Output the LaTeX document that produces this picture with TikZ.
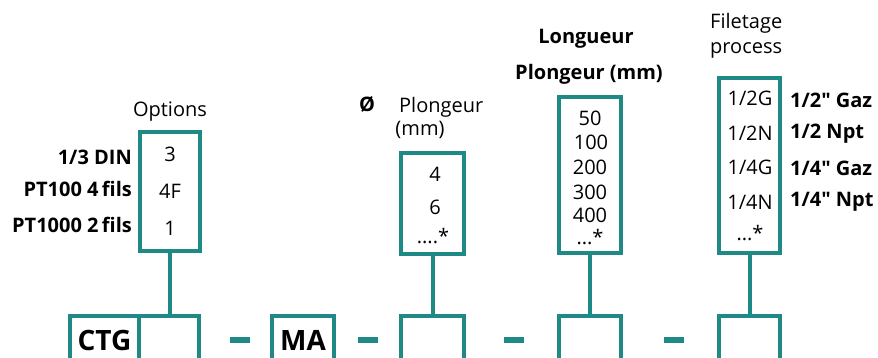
\documentclass[tikz,border=0pt]{standalone}
\usepackage{fontspec}
\setmainfont{Open Sans}[Ligatures=TeXOff]
\usetikzlibrary{positioning}
\definecolor{sonde}{RGB}{30,137,133}
\tikzset{x=1pt, y=-1pt, % one unit is one pixel, y runs down
every node/.style={ % Text size of the whole picture
font=\fontsize{20}{24}\selectfont,
inner sep=0pt},
box/.style={ % Boxes holding the choices
draw=sonde, line width=4pt, outer sep=0pt,
anchor=north west},
cell/.style={ % Cells of the order code
box, minimum height=48pt},
stem/.style={draw=sonde, line width=4pt},
lbl/.style={font=\fontsize{20}{24}\selectfont\bfseries}}

\begin{document}
\begin{tikzpicture}
    \useasboundingbox (0,0) rectangle (878,358);

    % option boxes
    \node[box, minimum width=60pt, minimum height=119pt] (opt) at (140,132) {};
    \node[box, minimum width=63pt, minimum height=101pt] (dia) at (401,153) {};
    \node[box, minimum width=62pt, minimum height=156pt] (lng) at (559,97) {};
    \node[box, minimum width=61pt, minimum height=175pt] (fil) at (719,78) {};

    % order code cells
    \node[cell, minimum width=69pt, font=\fontsize{28}{32}\selectfont\bfseries] (ctg) at (70,316) {CTG};
    \node[cell, minimum width=60pt] (ctgb) at (139,316) {};
    \node[cell, minimum width=62pt, font=\fontsize{28}{32}\selectfont\bfseries] (ma) at (272,316) {MA};
    \node[cell, minimum width=63pt] (diab) at (401,316) {};
    \node[cell, minimum width=62pt] (lngb) at (559,316) {};
    \node[cell, minimum width=61pt] (filb) at (719,316) {};

    \draw[stem] (opt.south) -- (opt.south |- ctgb.north);
    \draw[stem] (dia.south) -- (dia.south |- diab.north);
    \draw[stem] (lng.south) -- (lng.south |- lngb.north);
    \draw[stem] (fil.south) -- (fil.south |- filb.north);

    \foreach \x in {230,358,504,664}
        \fill[sonde] (\x,337) rectangle ++(20,6);

    % Options
    \node (optt) at (170,112) {Options};
    \node at (170,154) {3};
    \node at (170,191) {4F};
    \node at (170,228) {1};
    \node[lbl, anchor=east] at (132,157) {1/3 DIN};
    \node[lbl, anchor=east] at (132,189) {PT100 4\,fils};
    \node[lbl, anchor=east] at (132,225) {PT1000 2\,fils};

    % diametre
    \node[lbl] at (367,104) {Ø};
    \node[anchor=west] at (399,107) {Plongeur};
    \node at (420,130) {(mm)};
    \node at (435,174) {4};
    \node at (435,207) {6};
    \node at (433,236) {....*};

    % longueur
    \node[lbl] at (586,39) {Longueur};
    \node[lbl] at (589,74) {Plongeur (mm)};
    \node at (590,118) {50};
    \node at (591,142) {100};
    \node at (590,167) {200};
    \node at (590,192) {300};
    \node at (590,215) {400};
    \node at (590,237) {...*};

    % filetage
    \node[anchor=west] at (710,23) {Filetage};
    \node[anchor=west] at (710,50) {process};
    \node at (750,98) {1/2G};
    \node at (750,133) {1/2N};
    \node at (750,167) {1/4G};
    \node at (750,202) {1/4N};
    \node at (750,233) {...*};
    \node[lbl, anchor=west] at (790,100) {1/2" Gaz};
    \node[lbl, anchor=west] at (790,134) {1/2 Npt};
    \node[lbl, anchor=west] at (790,168) {1/4" Gaz};
    \node[lbl, anchor=west] at (790,202) {1/4" Npt};
\end{tikzpicture}
\end{document}
